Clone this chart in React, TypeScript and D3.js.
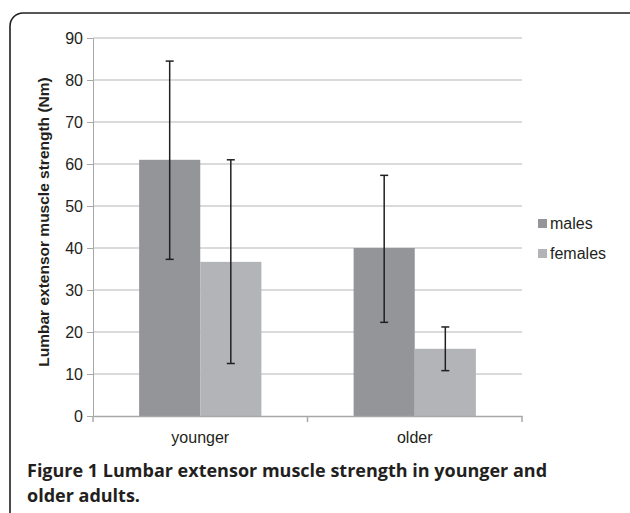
import React, { useEffect, useRef } from 'react'
import * as d3 from 'd3'

const groups = ['younger', 'older']
const seriesNames = ['males', 'females']
const males = [61, 40]
const females = [36.7, 16]
const malesErrLow = [37.3, 22.3]
const malesErrHigh = [84.5, 57.3]
const femalesErrLow = [12.5, 10.8]
const femalesErrHigh = [61, 21.2]
const yTicks = [0, 10, 20, 30, 40, 50, 60, 70, 80, 90]
const colors = ['#939598', '#b3b4b7']

export default function App() {
  const ref = useRef<SVGSVGElement>(null)

  useEffect(() => {
    const svg = d3.select(ref.current)
    svg.selectAll('*').remove()

    const left = 93, right = 522, top = 38, bottom = 416

    const x = d3.scaleBand().domain(groups).range([left, right])
      .paddingInner(0.43).paddingOuter(0.215)
    const xs = d3.scaleBand().domain(seriesNames).range([0, x.bandwidth()])
    const y = d3.scaleLinear().domain([0, 90]).range([bottom, top])

    // frame
    svg.append('rect')
      .attr('x', 10).attr('y', 13).attr('width', 640).attr('height', 540)
      .attr('rx', 13).attr('fill', 'none').attr('stroke', '#231f20').attr('stroke-width', 1.6)

    // gridlines
    svg.append('g').selectAll('line')
      .data(yTicks.filter(d => d > 0))
      .enter().append('line')
      .attr('x1', left).attr('x2', right)
      .attr('y1', d => y(d)).attr('y2', d => y(d))
      .attr('stroke', '#b5b5b5').attr('stroke-width', 1)

    // y axis
    const yAxis = svg.append('g')
      .attr('transform', `translate(${left},0)`)
      .call(d3.axisLeft(y).tickValues(yTicks).tickSize(6).tickPadding(4).tickSizeOuter(0))
    yAxis.attr('font-size', null)
    yAxis.select('.domain').attr('stroke', '#a8a8a8')
    yAxis.selectAll('.tick line').attr('stroke', '#a8a8a8')
    yAxis.selectAll('text')
      .attr('font-family', 'Liberation Sans, Arial, sans-serif')
      .attr('font-size', 16).attr('fill', '#231f20')

    const all = [
      { vals: males, lo: malesErrLow, hi: malesErrHigh },
      { vals: females, lo: femalesErrLow, hi: femalesErrHigh },
    ]

    // bars
    all.forEach((s, si) => {
      svg.append('g').selectAll('rect')
        .data(groups)
        .enter().append('rect')
        .attr('x', g => (x(g) as number) + (xs(seriesNames[si]) as number))
        .attr('width', xs.bandwidth())
        .attr('y', (g, i) => y(s.vals[i]))
        .attr('height', (g, i) => bottom - y(s.vals[i]))
        .attr('fill', colors[si])
    })

    // x axis
    const xAxis = svg.append('g')
      .attr('transform', `translate(0,${bottom})`)
      .call(d3.axisBottom(x).tickSize(0).tickPadding(16))
    xAxis.select('.domain').attr('stroke', '#a8a8a8').attr('stroke-width', 1.5)
    xAxis.selectAll('text')
      .attr('font-family', 'Liberation Sans, Arial, sans-serif')
      .attr('font-size', 16).attr('fill', '#231f20')
    svg.append('g').selectAll('line')
      .data([left, (left + right) / 2, right])
      .enter().append('line')
      .attr('x1', d => d).attr('x2', d => d)
      .attr('y1', bottom).attr('y2', bottom + 6)
      .attr('stroke', '#a8a8a8').attr('stroke-width', 1.5)

    // error bars
    all.forEach((s, si) => {
      groups.forEach((g, i) => {
        const cx = (x(g) as number) + (xs(seriesNames[si]) as number) + xs.bandwidth() / 2
        const eg = svg.append('g').attr('stroke', '#231f20').attr('stroke-width', 1.5)
        eg.append('line').attr('x1', cx).attr('x2', cx).attr('y1', y(s.lo[i])).attr('y2', y(s.hi[i]))
        eg.append('line').attr('x1', cx - 4).attr('x2', cx + 4).attr('y1', y(s.lo[i])).attr('y2', y(s.lo[i]))
        eg.append('line').attr('x1', cx - 4).attr('x2', cx + 4).attr('y1', y(s.hi[i])).attr('y2', y(s.hi[i]))
      })
    })

    // legend
    const leg = svg.append('g')
    seriesNames.forEach((n, i) => {
      leg.append('rect').attr('x', 538).attr('y', 219 + i * 30).attr('width', 9).attr('height', 9)
        .attr('fill', colors[i])
      leg.append('text').attr('x', 550).attr('y', 229 + i * 30).text(n)
        .attr('font-family', 'Liberation Sans, Arial, sans-serif')
        .attr('font-size', 16).attr('fill', '#231f20')
    })

    // y title
    svg.append('text')
      .attr('transform', `translate(49,${(top + bottom) / 2 - 5}) rotate(-90)`)
      .attr('text-anchor', 'middle')
      .attr('font-family', 'Liberation Sans, Arial, sans-serif')
      .attr('font-weight', 'bold').attr('font-size', 15.5).attr('fill', '#231f20')
      .text('Lumbar extensor muscle strength (Nm)')

    // caption
    const cap = svg.append('text')
      .attr('font-family', 'Open Sans, sans-serif')
      .attr('font-size', 18).attr('fill', '#231f20').attr('font-weight', 'bold')
    cap.append('tspan').attr('x', 27).attr('y', 477).text('Figure 1')
    cap.append('tspan').text(' Lumbar extensor muscle strength in younger and')
    cap.append('tspan').attr('x', 27).attr('y', 502).text('older adults.')
  }, [])

  return (
    <svg ref={ref} width={630} height={513}
      style={{ position: 'absolute', left: 0, top: 0, background: '#fff' }} />
  )
}
